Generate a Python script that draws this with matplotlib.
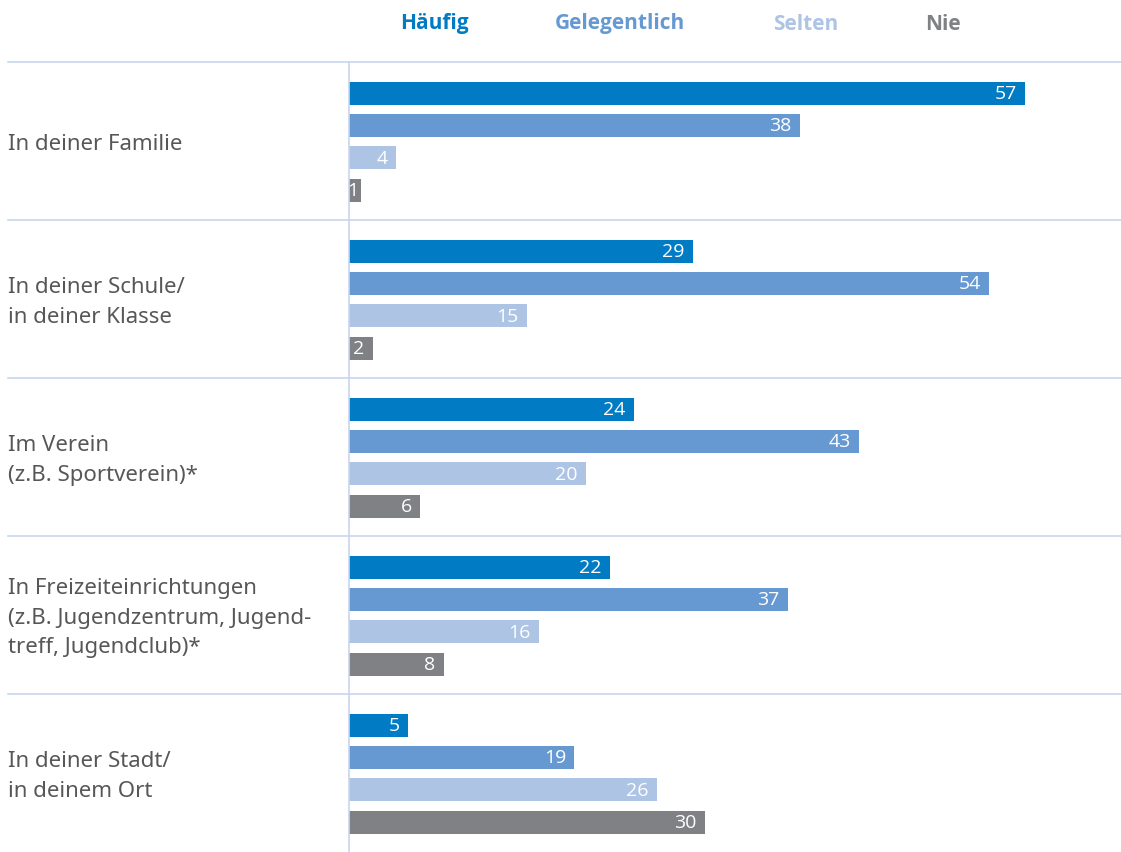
import matplotlib
matplotlib.use("Agg")
import matplotlib.pyplot as plt
from matplotlib.lines import Line2D
from matplotlib.transforms import blended_transform_factory

categories = [
    "In deiner Familie",
    "In deiner Schule/\nin deiner Klasse",
    "Im Verein\n(z.B. Sportverein)*",
    "In Freizeiteinrichtungen\n(z.B. Jugendzentrum, Jugend-\ntreff, Jugendclub)*",
    "In deiner Stadt/\nin deinem Ort",
]
series = ["Häufig", "Gelegentlich", "Selten", "Nie"]
haeufig = [57, 29, 24, 22, 5]
gelegentlich = [38, 54, 43, 37, 19]
selten = [4, 15, 20, 16, 26]
nie = [1, 2, 6, 8, 30]
values = [haeufig, gelegentlich, selten, nie]
colors = ["#007bc4", "#6699d2", "#aec4e5", "#808184"]

W, H = 1121, 853
fig = plt.figure(figsize=(W / 100, H / 100), dpi=100)
ax = fig.add_axes([349 / W, 0, 1 - 349 / W, (H - 63) / H])

offsets = [0.1975, 0.4, 0.605, 0.8125]
bar_h = 0.144
for s, (vals, col, off) in enumerate(zip(values, colors, offsets)):
    ys = [i + off for i in range(len(categories))]
    ax.barh(ys, vals, height=bar_h, color=col, zorder=2)
    for y, v in zip(ys, vals):
        pad = -1.5 if v < 2 else -6
        ax.annotate(str(v), (v, y), xytext=(pad, 0), textcoords="offset points",
                    ha="right", va="center", color="white", fontsize=14,
                    family="Open Sans", zorder=3, annotation_clip=False)

ax.set_xlim(0, 65.1)
ax.set_ylim(5, 0)
ax.set_xticks([])
ax.set_yticks([])
for side in ["top", "right", "bottom"]:
    ax.spines[side].set_visible(False)
ax.spines["left"].set_color("#c8d6ee")
ax.spines["left"].set_linewidth(1.2)

# separator lines spanning from the label area to the right edge
tr = blended_transform_factory(fig.transFigure, ax.transData)
for i in range(len(categories)):
    fig.add_artist(Line2D([8 / W, 1], [i, i], transform=tr, color="#c8d6ee",
                          lw=1.2, zorder=1))
    fig.text(8 / W, i + 0.515, categories[i], transform=tr, ha="left", va="center",
             fontsize=16, color="#575757", family="Noto Sans", linespacing=1.53)

legend_x = [434, 620, 806, 943]
for name, col, x in zip(series, colors, legend_x):
    fig.text(x / W, 1 - 24 / H, name, ha="center", va="center", fontsize=15,
             fontweight="bold", color=col, family="Open Sans")

fig.savefig("out.png", dpi=100)
